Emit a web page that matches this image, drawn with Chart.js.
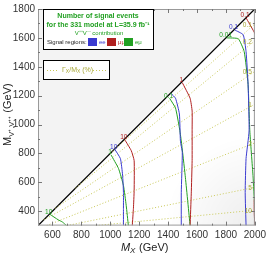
<!DOCTYPE html>
<html>
<head>
<meta charset="UTF-8">
<title>331 model - signal events</title>
<script src="https://cdn.jsdelivr.net/npm/chart.js"></script>
<style>
  html, body { margin: 0; padding: 0; background: #fff; }
</style>
</head>
<body>
<canvas id="grafico" width="270" height="253"></canvas>
<script>
// eixos
const xTicks = [600, 800, 1000, 1200, 1400, 1600, 1800, 2000];
const yTicks = [400, 600, 800, 1000, 1200, 1400, 1600, 1800];
const diagonal = [{x: 500, y: 300}, {x: 2000, y: 1800}];

// contornos ee (azul)
const ee10 = [{x:1030,y:830},{x:1070,y:764},{x:1085,y:650},{x:1091,y:530},{x:1091,y:420},{x:1091,y:300}];
const ee1  = [{x:1420,y:1215},{x:1451,y:1182},{x:1478,y:1073},{x:1485,y:887},{x:1498,y:805},{x:1491,y:530},{x:1491,y:300}];
const ee01 = [{x:1860,y:1655},{x:1919,y:1622},{x:1939,y:1505},{x:1953,y:1278},{x:1960,y:956},{x:1939,y:764},{x:1933,y:530},{x:1939,y:300}];

// contornos mumu (vermelho)
const mm10 = [{x:1100,y:895},{x:1145,y:819},{x:1165,y:750},{x:1165,y:544},{x:1160,y:420},{x:1152,y:300}];
const mm1  = [{x:1498,y:1290},{x:1552,y:1182},{x:1566,y:1093},{x:1566,y:956},{x:1566,y:750},{x:1560,y:520},{x:1552,y:300}];
const mm01a = [{x:1939,y:1739},{x:1994,y:1642},{x:2015,y:1600}];
const mm01b = [{x:2015,y:520},{x:1996,y:480},{x:1996,y:380},{x:2000,y:300}];

// contornos emu (verde)
const em10  = [{x:581,y:379},{x:640,y:340},{x:670,y:324},{x:697,y:300}];
const em1   = [{x:1005,y:790},{x:1057,y:695},{x:1091,y:578},{x:1110,y:440},{x:1125,y:300}];
const em01  = [{x:1410,y:1182},{x:1451,y:1114},{x:1478,y:976},{x:1491,y:887},{x:1518,y:647},{x:1552,y:300}];
const em001 = [{x:1805,y:1600},{x:1885,y:1594},{x:1926,y:1505},{x:1953,y:1278},{x:1965,y:956},{x:1987,y:647},{x:2000,y:421},{x:2015,y:380}];

// Gamma_X/M_X (%)
const gammaLevels = ['0.1', '0.2', '0.5', '1', '2', '5', '10'];
const gammaStartX = [1000, 760, 620, 540, 560, 700, 900];
const gammaStartY = [800, 560, 420, 340, 300, 300, 300];
const gammaEndY   = [1697, 1580, 1368, 1141, 873, 565, 407];

const AZUL = '#3a3ad0', VERM = '#b02020', VERDE = '#22a022', OLIVA = '#c8c858', OLIVA_TXT = '#a8a838';

const contornos = [
    {d: ee10, c: AZUL, lab: '10'}, {d: ee1, c: AZUL, lab: ''}, {d: ee01, c: AZUL, lab: '0.1'},
    {d: mm10, c: VERM, lab: '10'}, {d: mm1, c: VERM, lab: '1'}, {d: mm01a, c: VERM, lab: '0.1'}, {d: mm01b, c: VERM, lab: ''},
    {d: em10, c: VERDE, lab: '10'}, {d: em1, c: VERDE, lab: '1'}, {d: em01, c: VERDE, lab: '0.1'}, {d: em001, c: VERDE, lab: '0.01'}
];

const datasets = [];
datasets.push({
    data: diagonal, borderColor: '#000', borderWidth: 1.3, pointRadius: 0,
    showLine: true, fill: 'end', backgroundColor: '#f3f3f3', order: 20
});
gammaLevels.forEach((g, i) => {
    datasets.push({
        data: [{x: gammaStartX[i], y: gammaStartY[i]}, {x: 2000, y: gammaEndY[i]}],
        borderColor: OLIVA, borderWidth: 1, borderDash: [1, 2], pointRadius: 0,
        showLine: true, fill: false, order: 10
    });
});
contornos.forEach(c => {
    datasets.push({
        data: c.d, borderColor: c.c, borderWidth: 1, pointRadius: 0,
        showLine: true, fill: false, tension: 0.15, order: 1
    });
});

const fonte = '"Liberation Sans", Arial, sans-serif';

const decoracao = {
    id: 'decoracao',
    beforeDatasetsDraw(chart) {
        const {ctx, chartArea: a} = chart;
        ctx.save();
        const g = ctx.createRadialGradient(a.right, a.bottom, 0, a.right, a.bottom, 90);
        g.addColorStop(0, 'rgba(0,0,0,0.07)');
        g.addColorStop(1, 'rgba(0,0,0,0)');
        ctx.fillStyle = g;
        ctx.fillRect(a.left, a.top, a.right - a.left, a.bottom - a.top);
        ctx.restore();
    },
    afterDraw(chart) {
        const {ctx, chartArea: a, scales: {x, y}} = chart;
        ctx.save();
        // moldura
        ctx.strokeStyle = '#999';
        ctx.lineWidth = 1;
        ctx.strokeRect(a.left + 0.5, a.top + 0.5, a.right - a.left - 1, a.bottom - a.top - 1);
        // marcas internas
        ctx.strokeStyle = '#777';
        ctx.beginPath();
        for (let v = 600; v <= 2000; v += 100) {
            const px = Math.round(x.getPixelForValue(v)) + 0.5;
            const len = v % 200 === 0 ? 4 : 2;
            ctx.moveTo(px, a.bottom); ctx.lineTo(px, a.bottom - len);
            ctx.moveTo(px, a.top); ctx.lineTo(px, a.top + len);
        }
        for (let v = 400; v <= 1800; v += 100) {
            const py = Math.round(y.getPixelForValue(v)) + 0.5;
            const len = v % 200 === 0 ? 4 : 2;
            ctx.moveTo(a.left, py); ctx.lineTo(a.left + len, py);
            ctx.moveTo(a.right, py); ctx.lineTo(a.right - len, py);
        }
        ctx.stroke();

        // rotulos dos contornos
        ctx.font = '6.5px ' + fonte;
        ctx.textAlign = 'center';
        ctx.textBaseline = 'bottom';
        contornos.forEach(c => {
            if (!c.lab) return;
            const p = c.d[0];
            ctx.fillStyle = c.c;
            ctx.fillText(c.lab, x.getPixelForValue(p.x) - 1, y.getPixelForValue(p.y) + 1);
        });
        // rotulos Gamma
        ctx.fillStyle = OLIVA_TXT;
        ctx.textAlign = 'right';
        ctx.textBaseline = 'middle';
        gammaLevels.forEach((g, i) => {
            ctx.fillText(g, a.right - 3, y.getPixelForValue(gammaEndY[i]) + 1);
        });

        // legenda principal
        ctx.fillStyle = '#fff';
        ctx.fillRect(43, 9, 110, 40);
        ctx.strokeStyle = '#000';
        ctx.lineWidth = 1;
        ctx.strokeRect(43.5, 9.5, 110, 40);
        ctx.fillStyle = VERDE;
        ctx.textAlign = 'center';
        ctx.textBaseline = 'middle';
        ctx.font = 'bold 7px ' + fonte;
        ctx.fillText('Number of signal events', 98, 16);
        ctx.fillText('for the 331 model at L=35.9 fb\u207B\u00B9', 98, 25);
        ctx.font = '6px ' + fonte;
        ctx.fillText('V\u207A\u207AV\u207B\u207B contribution', 99, 33);
        ctx.textAlign = 'left';
        ctx.fillStyle = '#222';
        ctx.fillText('Signal regions:', 47, 42);
        const caixas = [[88, AZUL, 'ee'], [107, VERM, '\u03BC\u03BC'], [124, VERDE, 'e\u03BC']];
        caixas.forEach(([cx, cor, t]) => {
            ctx.fillStyle = cor;
            ctx.fillRect(cx, 38, 9, 8);
            ctx.fillText(t, cx + 11, 42);
        });

        // legenda Gamma
        ctx.fillStyle = '#fff';
        ctx.fillRect(43, 60, 66, 19);
        ctx.strokeStyle = '#000';
        ctx.strokeRect(43.5, 60.5, 66, 19);
        ctx.strokeStyle = OLIVA;
        ctx.setLineDash([1, 2]);
        ctx.beginPath();
        ctx.moveTo(47, 70.5); ctx.lineTo(59, 70.5);
        ctx.moveTo(93, 70.5); ctx.lineTo(106, 70.5);
        ctx.stroke();
        ctx.setLineDash([]);
        ctx.fillStyle = OLIVA_TXT;
        ctx.textAlign = 'left';
        let lx = 62;
        const parte = (t, f, dy) => { ctx.font = f + fonte; ctx.fillText(t, lx, 70 + dy); lx += ctx.measureText(t).width; };
        parte('\u0393', '7px ', 0);
        parte('X', '5px ', 2);
        parte('/M', '7px ', 0);
        parte('X', '5px ', 2);
        parte(' (%)', '7px ', 0);

        // titulos dos eixos
        ctx.fillStyle = '#222';
        ctx.textBaseline = 'alphabetic';
        ctx.font = 'italic 11px ' + fonte;
        ctx.fillText('M', 121, 251);
        ctx.font = 'italic 8px ' + fonte;
        ctx.fillText('X', 130, 253);
        ctx.font = '11px ' + fonte;
        ctx.fillText(' (GeV)', 136, 251);

        ctx.translate(11, 116);
        ctx.rotate(-Math.PI / 2);
        ctx.textAlign = 'left';
        ctx.font = '11px ' + fonte;
        let tx = -30;
        ctx.fillText('M', tx, 0); tx += ctx.measureText('M').width;
        ctx.font = '7.5px ' + fonte;
        ctx.fillText('V\u207A,V\u207A\u207A', tx, 3); tx += ctx.measureText('V\u207A,V\u207A\u207A').width;
        ctx.font = '11px ' + fonte;
        ctx.fillText(' (GeV)', tx, 0);
        ctx.restore();
    }
};

const ctx = document.getElementById('grafico').getContext('2d');
const grafico = new Chart(ctx, {
    type: 'scatter',
    data: { datasets: datasets },
    options: {
        responsive: false,
        animation: false,
        devicePixelRatio: 1,
        layout: { padding: { top: 7, right: 11, left: 0, bottom: 0 } },
        plugins: { legend: { display: false }, tooltip: { enabled: false } },
        scales: {
            x: {
                type: 'linear', min: 500, max: 2000,
                afterBuildTicks: s => { s.ticks = xTicks.map(v => ({value: v})); },
                afterFit: s => { s.height = 27.4; },
                grid: { display: false, drawTicks: false },
                border: { display: false },
                ticks: { color: '#333', padding: 4, maxRotation: 0, font: { size: 10, family: fonte },
                         callback: v => String(v) }
            },
            y: {
                type: 'linear', min: 300, max: 1800,
                afterBuildTicks: s => { s.ticks = yTicks.map(v => ({value: v})); },
                afterFit: s => { s.width = 38; },
                grid: { display: false, drawTicks: false },
                border: { display: false },
                ticks: { color: '#333', padding: 3, font: { size: 10, family: fonte },
                         callback: v => String(v) }
            }
        }
    },
    plugins: [decoracao]
});
</script>
</body>
</html>
